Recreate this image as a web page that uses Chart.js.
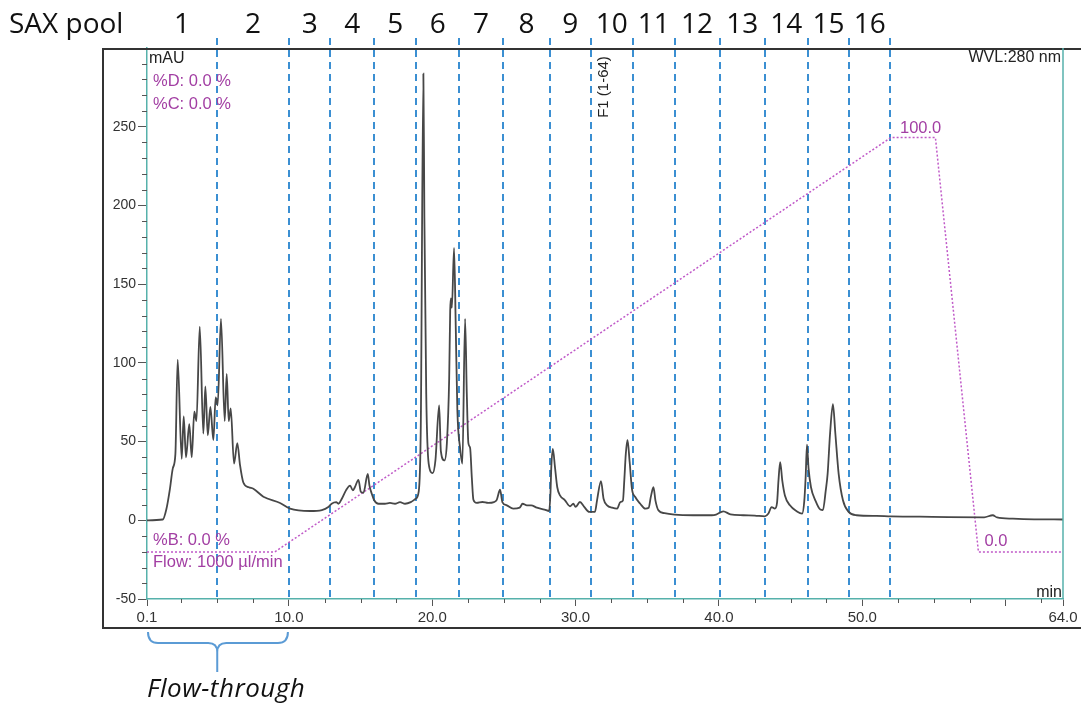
<!DOCTYPE html>
<html>
<head>
<meta charset="utf-8">
<script src="https://cdn.jsdelivr.net/npm/chart.js@4.4.0/dist/chart.umd.min.js"></script>
<style>
    html, body { margin: 0; padding: 0; background: #fff; }
    #wrap { width: 1081px; height: 703px; position: relative; }
</style>
</head>
<body>
<div id="wrap"><canvas id="chart" width="1081" height="703"></canvas></div>
<script>
// Chromatogram (UV 280 nm)
const traceTime = [
    0.1, 1.2, 1.45, 1.7, 1.9, 2.08, 2.24, 2.52, 2.66, 2.82, 3.05, 3.22, 3.40, 3.55, 3.78,
    4.03, 4.17, 4.34, 4.52, 4.73, 4.89, 5.03, 5.26, 5.52, 5.66, 5.80, 5.94, 6.17, 6.40, 6.59,
    6.82, 7.2, 7.52, 8.22, 9.38, 10.08, 11.47, 12.3, 12.75, 12.98, 13.3, 13.45, 13.69, 13.98,
    14.27, 14.46, 14.6, 14.85, 15.02, 15.2, 15.5, 15.62, 15.78, 15.95, 16.25, 16.7, 17.05,
    17.4, 17.75, 18.1, 18.5, 18.85, 19.05, 19.2, 19.38, 19.45, 19.58, 19.75, 20.03, 20.22,
    20.48, 20.6, 20.85, 21.02, 21.18, 21.25, 21.3, 21.37, 21.52, 21.64, 21.75, 21.94, 22.1,
    22.29, 22.41, 22.52, 22.64, 22.76, 22.87, 23.1, 23.5, 23.9, 24.3, 24.5, 24.73, 24.89,
    25.2, 25.65, 26.1, 26.3, 26.6, 26.9, 27.3, 27.83, 28.15, 28.25, 28.3, 28.41, 28.56,
    28.72, 28.91, 29.26, 29.61, 29.84, 30.0, 30.3, 30.6, 30.95, 31.35, 31.5, 31.77, 31.95,
    32.2, 32.55, 32.9, 33.12, 33.3, 33.4, 33.5, 33.62, 33.77, 33.93, 34.16, 34.51, 34.86,
    35.1, 35.25, 35.43, 35.57, 35.78, 36.2, 36.9, 38.2, 39.5, 39.8, 40.3, 40.8, 41.7, 42.5,
    43.2, 43.45, 43.67, 43.9, 44.05, 44.15, 44.27, 44.42, 44.6, 44.95, 45.43, 45.8, 45.95,
    46.05, 46.14, 46.25, 46.42, 46.72, 47.07, 47.25, 47.45, 47.58, 47.75, 47.95, 48.12,
    48.35, 48.65, 49.05, 49.6, 51, 52, 54, 56, 58.5, 59.1, 59.4, 60.5, 62, 64
];
const traceMAU = [
    0, 0.5, 7, 20, 33, 42, 102, 39, 66, 40, 61, 40, 69, 63, 123,
    55, 85, 54, 72, 51, 78, 73, 128, 63, 93, 63, 71, 36, 49, 35,
    24, 21, 20, 15, 11, 7.4, 5.9, 6.5, 8.4, 10.5, 11.5, 10.5, 13.7, 19,
    22, 19, 21, 25.7, 18, 17.5, 29.5, 22, 16.9, 12.7, 10.5, 10.5, 11,
    10.5, 11.5, 10.5, 11.5, 13.7, 18, 60, 283.7, 192, 80, 36, 30, 38,
    73, 44, 38, 49, 90, 133, 141, 135, 173, 122, 70, 46, 36,
    128, 80, 49, 46, 27, 13, 11, 11.6, 11, 11.5, 13, 19.4, 11.6,
    9.5, 7.4, 8, 10.5, 9.5, 9.5, 8, 6.8, 5.9, 18, 33, 45.4, 33.8,
    21, 15.8, 12.7, 8.9, 10.5, 8.5, 11.6, 8.5, 5.3, 5.3, 13, 24.9, 13.7,
    9.5, 8, 7.4, 11.6, 12.5, 26, 42, 51, 37, 20, 14.8, 10.5, 7.4,
    8, 15, 21, 12.5, 6.3, 4.5, 3.6, 3.2, 3.2, 3.6, 5.7, 3.8, 3.2, 3.0,
    2.5, 4.3, 8.4, 7.4, 11, 25, 36.9, 25, 15.8, 9.5, 5.7, 4.2, 12,
    28, 48, 33, 21, 12.7, 6.8, 6.5, 19, 29.5, 55, 73.8, 55,
    29.5, 12.7, 5.3, 3.2, 2.8, 2.5, 2.3, 2.0, 1.9, 3.2, 1.8, 1.0, 0.6, 0.5
];

// Gradient %B
const gradientTime = [0.1, 9.0, 52.0, 55.1, 58.1, 64];
const gradientB = [0, 0, 100, 100, 0, 0];

// SAX pool fraction boundaries (min) and names
const poolBounds = [0.1, 5, 10, 12.9, 15.95, 18.9, 21.85, 24.95, 28.2, 31.05, 34, 36.9, 40.05, 43.2, 46.2, 49.1, 51.95];
const poolLabels = ['1', '2', '3', '4', '5', '6', '7', '8', '9', '10', '11', '12', '13', '14', '15', '16'];

// Axis ticks
const xMajorTicks = [0.1, 10, 20, 30, 40, 50, 60, 64];
const xTickLabels = ['0.1', '10.0', '20.0', '30.0', '40.0', '50.0', '', '64.0'];
const yMajorTicks = [-50, 0, 50, 100, 150, 200, 250, 300];
const yTickLabels = ['-50', '0', '50', '100', '150', '200', '250', ''];

const TEAL = '#56b1ab';
const MAGENTA = '#a23ea3';
const BLUE = '#3b8fd2';

const overlayPlugin = {
    id: 'overlay',
    beforeDatasetsDraw(chart) {
        const { ctx, chartArea, scales } = chart;
        const x = scales.x;
        ctx.save();
        // fraction boundaries
        ctx.strokeStyle = BLUE;
        ctx.lineWidth = 2;
        ctx.setLineDash([7, 5]);
        poolBounds.slice(1).forEach(t => {
            const px = Math.round(x.getPixelForValue(t));
            ctx.beginPath();
            ctx.moveTo(px, 38);
            ctx.lineTo(px, chartArea.bottom);
            ctx.stroke();
        });
        ctx.restore();
    },
    afterDraw(chart) {
        const { ctx, chartArea, scales } = chart;
        const x = scales.x;
        const y = scales.y;
        ctx.save();

        // outer frame
        ctx.strokeStyle = '#333';
        ctx.lineWidth = 2;
        ctx.strokeRect(103, 49, 1000, 579);

        // right axis line
        ctx.strokeStyle = TEAL;
        ctx.lineWidth = 1.5;
        ctx.beginPath();
        ctx.moveTo(chartArea.right, chartArea.top);
        ctx.lineTo(chartArea.right, chartArea.bottom);
        ctx.stroke();

        // minor ticks
        ctx.strokeStyle = '#555';
        ctx.lineWidth = 1;
        for (let v = -40; v < 300; v += 10) {
            if (v % 50 === 0) continue;
            const py = Math.round(y.getPixelForValue(v)) + 0.5;
            ctx.beginPath();
            ctx.moveTo(chartArea.left - 5, py);
            ctx.lineTo(chartArea.left, py);
            ctx.stroke();
        }
        for (let v = 2.5; v < 64; v += 2.5) {
            if (v % 10 === 0) continue;
            const px = Math.round(x.getPixelForValue(v)) + 0.5;
            ctx.beginPath();
            ctx.moveTo(px, chartArea.bottom);
            ctx.lineTo(px, chartArea.bottom + 4);
            ctx.stroke();
        }

        // pool numbers
        ctx.fillStyle = '#111';
        ctx.textBaseline = 'alphabetic';
        ctx.font = '28px "Open Sans"';
        ctx.textAlign = 'left';
        ctx.fillText('SAX pool', 9, 33);
        ctx.textAlign = 'center';
        poolLabels.forEach((lab, i) => {
            const cx = (x.getPixelForValue(poolBounds[i]) + x.getPixelForValue(poolBounds[i + 1])) / 2;
            ctx.fillText(lab, cx, 33);
        });

        // instrument annotations
        ctx.font = '16px "Liberation Sans"';
        ctx.textAlign = 'left';
        ctx.fillStyle = '#222';
        ctx.fillText('mAU', 149, 63);
        ctx.textAlign = 'right';
        ctx.fillText('WVL:280 nm', 1061, 62);
        ctx.fillText('min', 1062, 597);

        ctx.save();
        ctx.font = '15px "Liberation Sans"';
        ctx.translate(x.getPixelForValue(31.9) + 5, 87);
        ctx.rotate(-Math.PI / 2);
        ctx.textAlign = 'center';
        ctx.fillText('F1 (1-64)', 0, 0);
        ctx.restore();

        ctx.fillStyle = MAGENTA;
        ctx.font = '16.5px "Liberation Sans"';
        ctx.textAlign = 'left';
        ctx.fillText('%D: 0.0 %', 153, 86);
        ctx.fillText('%C: 0.0 %', 153, 109);
        ctx.fillText('%B: 0.0 %', 153, 545);
        ctx.fillText('Flow: 1000 \u00b5l/min', 153, 567);
        ctx.fillText('100.0', x.getPixelForValue(gradientTime[2]) + 9, 133);
        ctx.fillText('0.0', x.getPixelForValue(gradientTime[4]) + 6, 546);

        // flow-through brace
        const x0 = x.getPixelForValue(poolBounds[0]) + 1;
        const x1 = x.getPixelForValue(poolBounds[2]) - 1;
        const xm = x.getPixelForValue(poolBounds[1]);
        ctx.strokeStyle = '#5b9bd5';
        ctx.lineWidth = 2;
        ctx.beginPath();
        ctx.moveTo(x0, 632);
        ctx.quadraticCurveTo(x0, 643, x0 + 10, 643);
        ctx.lineTo(xm - 9, 643);
        ctx.quadraticCurveTo(xm, 643, xm, 652);
        ctx.lineTo(xm, 672);
        ctx.moveTo(xm, 652);
        ctx.quadraticCurveTo(xm, 643, xm + 9, 643);
        ctx.lineTo(x1 - 10, 643);
        ctx.quadraticCurveTo(x1, 643, x1, 632);
        ctx.stroke();

        ctx.fillStyle = '#111';
        ctx.font = 'italic 26px "Open Sans"';
        ctx.letterSpacing = '0.5px';
        ctx.textAlign = 'left';
        ctx.fillText('Flow-through', 147, 697);
        ctx.letterSpacing = '0px';

        ctx.restore();
    }
};

const ctx = document.getElementById('chart').getContext('2d');
new Chart(ctx, {
    type: 'line',
    data: {
        datasets: [
            {
                label: 'mAU',
                data: traceTime.map((t, i) => ({ x: t, y: traceMAU[i] })),
                borderColor: '#474747',
                borderWidth: 1.8,
                pointRadius: 0,
                cubicInterpolationMode: 'monotone',
                yAxisID: 'y'
            },
            {
                label: '%B',
                data: gradientTime.map((t, i) => ({ x: t, y: gradientB[i] })),
                borderColor: '#c05ac8',
                borderWidth: 1.5,
                borderDash: [2, 2],
                pointRadius: 0,
                tension: 0,
                yAxisID: 'yB'
            }
        ]
    },
    options: {
        responsive: false,
        animation: false,
        devicePixelRatio: 1,
        layout: { padding: { left: 103, top: 48, right: 18, bottom: 75 } },
        plugins: {
            legend: { display: false },
            tooltip: { enabled: false }
        },
        scales: {
            x: {
                type: 'linear',
                min: 0.1,
                max: 64,
                afterBuildTicks: (scale) => { scale.ticks = xMajorTicks.map(v => ({ value: v })); },
                afterFit: (scale) => { scale.height = 29; },
                grid: { drawOnChartArea: false, tickLength: 7, tickColor: '#555' },
                border: { color: TEAL, width: 1.5 },
                ticks: {
                    autoSkip: false,
                    maxRotation: 0,
                    padding: 3,
                    color: '#333',
                    font: { family: 'Liberation Sans', size: 15 },
                    callback: (v, i) => xTickLabels[i]
                }
            },
            y: {
                min: -50,
                max: 300,
                afterBuildTicks: (scale) => { scale.ticks = yMajorTicks.map(v => ({ value: v })); },
                afterFit: (scale) => { scale.width = 44; },
                grid: { drawOnChartArea: false, tickLength: 9, tickColor: '#555' },
                border: { color: TEAL, width: 1.5 },
                ticks: {
                    padding: 2,
                    color: '#333',
                    font: { family: 'Liberation Sans', size: 14 },
                    callback: (v, i) => yTickLabels[i]
                }
            },
            yB: {
                display: false,
                min: -11.34,
                max: 121.6
            }
        }
    },
    plugins: [overlayPlugin]
});
</script>
</body>
</html>
